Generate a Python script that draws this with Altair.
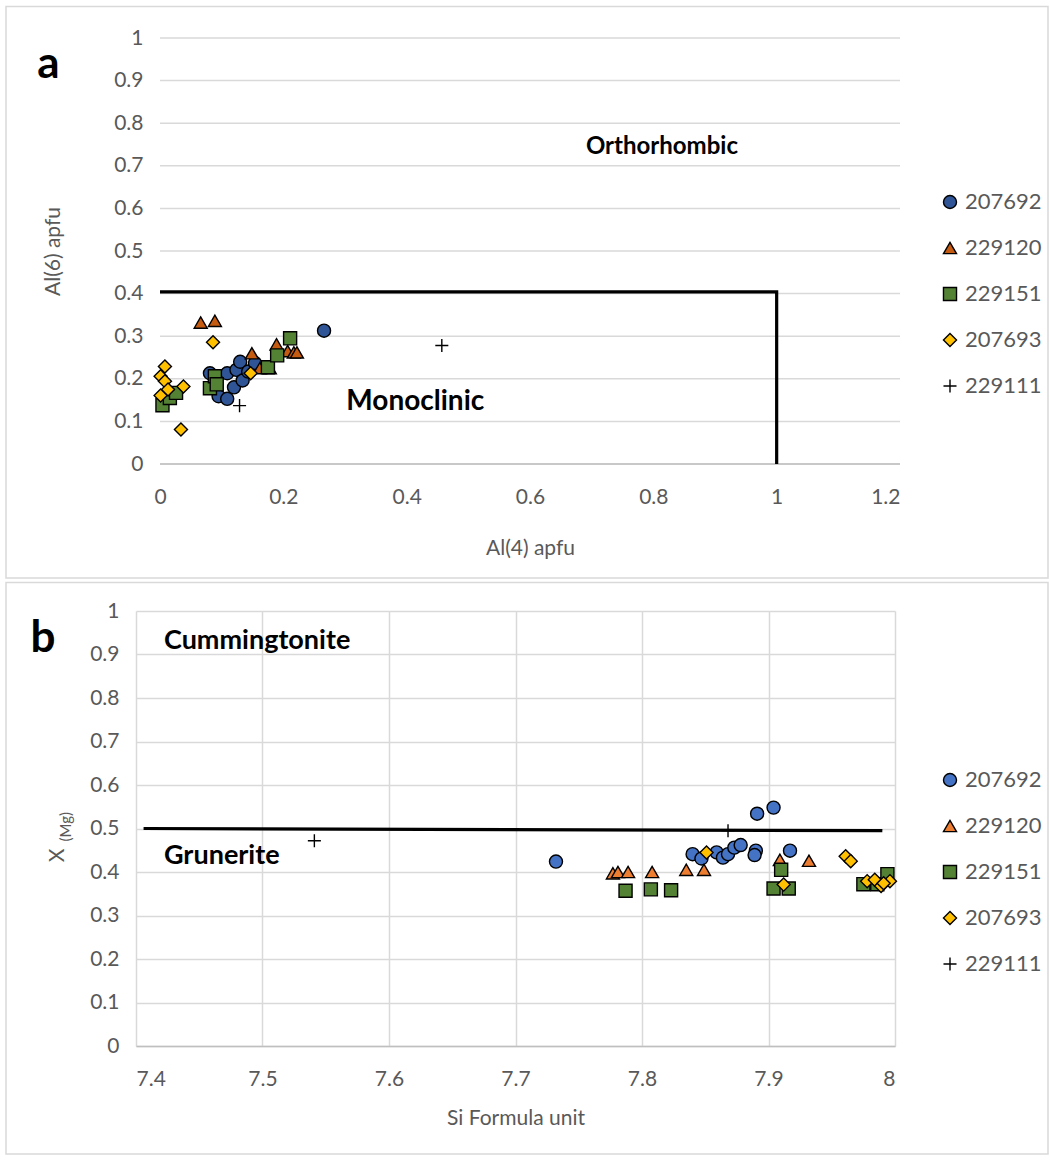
import altair as alt
import pandas as pd

FONT = "Lato"
GRID = "#D9D9D9"
SERIES = ["207692", "229120", "229151", "207693", "229111"]
SHAPES = ["circle", "triangle-up", "square", "diamond", "M-1,0H1M0,-1V1"]
COLORS_A = ["#2F5597", "#C55A11", "#548235", "#FFC000", "#000000"]
COLORS_B = ["#4472C4", "#ED7D31", "#548235", "#FFC000", "#000000"]
STROKES = ["#000000"] * 5

# ---------------- Panel a : Al(4) vs Al(6) ----------------
A_X = {
    "207692": [0.081, 0.095, 0.109, 0.109, 0.120, 0.124, 0.130, 0.134, 0.143, 0.154, 0.266],
    "229120": [0.066, 0.089, 0.149, 0.162, 0.178, 0.189, 0.207, 0.217, 0.222],
    "229151": [0.004, 0.016, 0.026, 0.081, 0.089, 0.092, 0.175, 0.190, 0.211],
    "207693": [0.008, 0.001, 0.008, 0.013, 0.001, 0.038, 0.034, 0.086, 0.147],
    "229111": [0.129, 0.457],
}
A_Y = {
    "207692": [0.213, 0.159, 0.153, 0.213, 0.180, 0.221, 0.240, 0.196, 0.217, 0.237, 0.313],
    "229120": [0.332, 0.336, 0.260, 0.225, 0.225, 0.281, 0.265, 0.262, 0.262],
    "229151": [0.138, 0.155, 0.167, 0.178, 0.206, 0.187, 0.227, 0.255, 0.295],
    "207693": [0.229, 0.206, 0.194, 0.175, 0.161, 0.182, 0.081, 0.286, 0.213],
    "229111": [0.137, 0.278],
}
A_BOUND_X = [0, 1, 1]
A_BOUND_Y = [0.404, 0.404, 0]
A_XTICKS = [0, 0.2, 0.4, 0.6, 0.8, 1, 1.2]
A_YTICKS = [0, 0.1, 0.2, 0.3, 0.4, 0.5, 0.6, 0.7, 0.8, 0.9, 1]

# ---------------- Panel b : Si vs X(Mg) ----------------
B_X = {
    "207692": [7.732, 7.840, 7.847, 7.859, 7.864, 7.868, 7.873, 7.878, 7.890, 7.889, 7.891, 7.904, 7.917],
    "229120": [7.777, 7.781, 7.789, 7.808, 7.835, 7.849, 7.909, 7.932],
    "229151": [7.787, 7.807, 7.823, 7.910, 7.904, 7.916, 7.975, 7.986, 7.994],
    "207693": [7.851, 7.961, 7.965, 7.912, 7.978, 7.984, 7.989, 7.996, 7.991],
    "229111": [7.541, 7.868],
}
B_Y = {
    "207692": [0.424, 0.441, 0.431, 0.445, 0.433, 0.441, 0.456, 0.462, 0.449, 0.439, 0.534, 0.548, 0.449],
    "229120": [0.397, 0.400, 0.400, 0.400, 0.405, 0.405, 0.428, 0.426],
    "229151": [0.357, 0.360, 0.358, 0.405, 0.362, 0.362, 0.372, 0.372, 0.395],
    "207693": [0.445, 0.436, 0.425, 0.371, 0.379, 0.382, 0.368, 0.379, 0.374],
    "229111": [0.472, 0.495],
}
B_BOUND_X = [7.406, 7.99]
B_BOUND_Y = [0.5, 0.495]
B_XTICKS = [7.4, 7.5, 7.6, 7.7, 7.8, 7.9, 8]
B_YTICKS = A_YTICKS


def points_df(xs, ys):
    rows = []
    for s in SERIES:
        for x, y in zip(xs[s], ys[s]):
            rows.append({"series": s, "x": x, "y": y})
    return pd.DataFrame(rows)


def line_df(xs, ys):
    return pd.DataFrame({"x": xs, "y": ys, "i": list(range(len(xs)))})


def legend(lx, ly):
    return alt.Legend(
        title=None, orient="none", legendX=lx, legendY=ly,
        labelFont=FONT, labelFontSize=22, labelColor="#595959",
        symbolSize=170, symbolStrokeWidth=1.4,
        rowPadding=24, labelOffset=4,
    )


def frame(border):
    return alt.Chart(alt.Data(values=[{}])).mark_rect(
        filled=False, stroke=GRID, strokeWidth=1.5
    ).encode(x=alt.value(border[0]), x2=alt.value(border[1]),
             y=alt.value(border[2]), y2=alt.value(border[3]))


def points(df, xs, ys, colors, leg):
    return alt.Chart(df).mark_point(filled=True, size=170,
                                    strokeWidth=1.4, opacity=1).encode(
        x=xs, y=ys,
        color=alt.Color("series:N", scale=alt.Scale(domain=SERIES, range=colors),
                        legend=leg),
        shape=alt.Shape("series:N", scale=alt.Scale(domain=SERIES, range=SHAPES),
                        legend=leg),
        stroke=alt.Stroke("series:N", scale=alt.Scale(domain=SERIES, range=STROKES),
                          legend=leg),
    )


def boundary(lines, xs, ys):
    return alt.Chart(lines).mark_line(color="black", strokeWidth=3.2).encode(
        x=xs, y=ys, order="i:Q")


def ann(text, x, y, size, bold=True, align="center", baseline="middle",
        color="black", angle=None):
    kw = dict(fontSize=size, font=FONT, fontWeight="bold" if bold else "normal",
              align=align, baseline=baseline, color=color)
    if angle is not None:
        kw["angle"] = angle
    return alt.Chart(alt.Data(values=[{}])).mark_text(**kw).encode(
        x=alt.datum(x), y=alt.datum(y), text=alt.value(text))


# ---- panel a (plot area begins 24 px left of x = 0 so both panels share an origin)
A_PAD = 24 / 616.7
xa = alt.X("x:Q", scale=alt.Scale(domain=[-A_PAD, 1.2], nice=False, zero=False),
           axis=alt.Axis(values=A_XTICKS, format="~g", title="Al(4) apfu",
                         labelPadding=22, titleBaseline="middle", titleY=84,
                         titleX=24 + 370, domain=False, ticks=False))
ya = alt.Y("y:Q", scale=alt.Scale(domain=[0, 1], nice=False),
           axis=alt.Axis(values=A_YTICKS, format="~g", title="Al(6) apfu",
                         labelPadding=-7, titleAngle=270, titleBaseline="middle",
                         titleAlign="center", titleX=-83, titleY=213,
                         domain=False, ticks=False, grid=False))

hgrid_a = alt.Chart(pd.DataFrame({"y": A_YTICKS})).mark_rule(
    color=GRID, strokeWidth=1.5).encode(y=ya, x=alt.datum(0), x2=alt.datum(1.2))
base_a = alt.Chart(alt.Data(values=[{}])).mark_rule(
    color="#BFBFBF", strokeWidth=1.5).encode(
    y=alt.datum(0), x=alt.datum(0), x2=alt.datum(1.2))

panel_a = alt.layer(
    frame((-130, 912, -31.5, 540)),
    hgrid_a, base_a,
    boundary(line_df(A_BOUND_X, A_BOUND_Y), xa, ya),
    points(points_df(A_X, A_Y), xa, ya, COLORS_A, legend(803, 153)),
    ann("a", -0.181, 0.905, 44, baseline="alphabetic"),
    ann("Orthorhombic", 0.814, 0.743, 24),
    ann("Monoclinic", 0.414, 0.145, 28),
).properties(width=764, height=426)

# ---- panel b
xb = alt.X("x:Q", scale=alt.Scale(domain=[7.4, 8], nice=False, zero=False),
           axis=alt.Axis(values=B_XTICKS, format="~g", title="Si Formula unit",
                         labelPadding=22, titleBaseline="middle", titleY=72,
                         domainColor="#BFBFBF", domainWidth=1.5, ticks=False))
yb = alt.Y("y:Q", scale=alt.Scale(domain=[0, 1], nice=False),
           axis=alt.Axis(values=B_YTICKS, format="~g", title="X",
                         labelPadding=17, titleAngle=270, titleBaseline="middle",
                         titleAlign="center", titleX=-79, titleY=244,
                         domain=False, ticks=False))

panel_b = alt.layer(
    frame((-130, 912, -28.5, 543)),
    boundary(line_df(B_BOUND_X, B_BOUND_Y), xb, yb),
    points(points_df(B_X, B_Y), xb, yb, COLORS_B, legend(803, 158)),
    ann("b", 7.3265, 0.9046, 44, baseline="alphabetic"),
    ann("Cummingtonite", 7.4221, 0.932, 27, align="left"),
    ann("Grunerite", 7.4221, 0.436, 27, align="left"),
    ann("(Mg)", 7.3445, 0.504, 15, bold=False, color="#595959", angle=270),
).properties(width=759, height=435)

chart = alt.vconcat(panel_a, panel_b, spacing=2).resolve_scale(
    x="independent", y="independent", color="independent", shape="independent",
    stroke="independent",
).properties(
    padding={"left": 5, "top": 5, "right": 0, "bottom": 0}
).configure_view(stroke=None).configure_axis(
    labelFont=FONT, labelFontSize=21, labelColor="#595959",
    titleFont=FONT, titleFontSize=21, titleFontWeight="normal", titleColor="#595959",
    gridColor=GRID, gridWidth=1.5,
)

chart.save("out.html", embed_options={"renderer": "svg", "actions": False})
